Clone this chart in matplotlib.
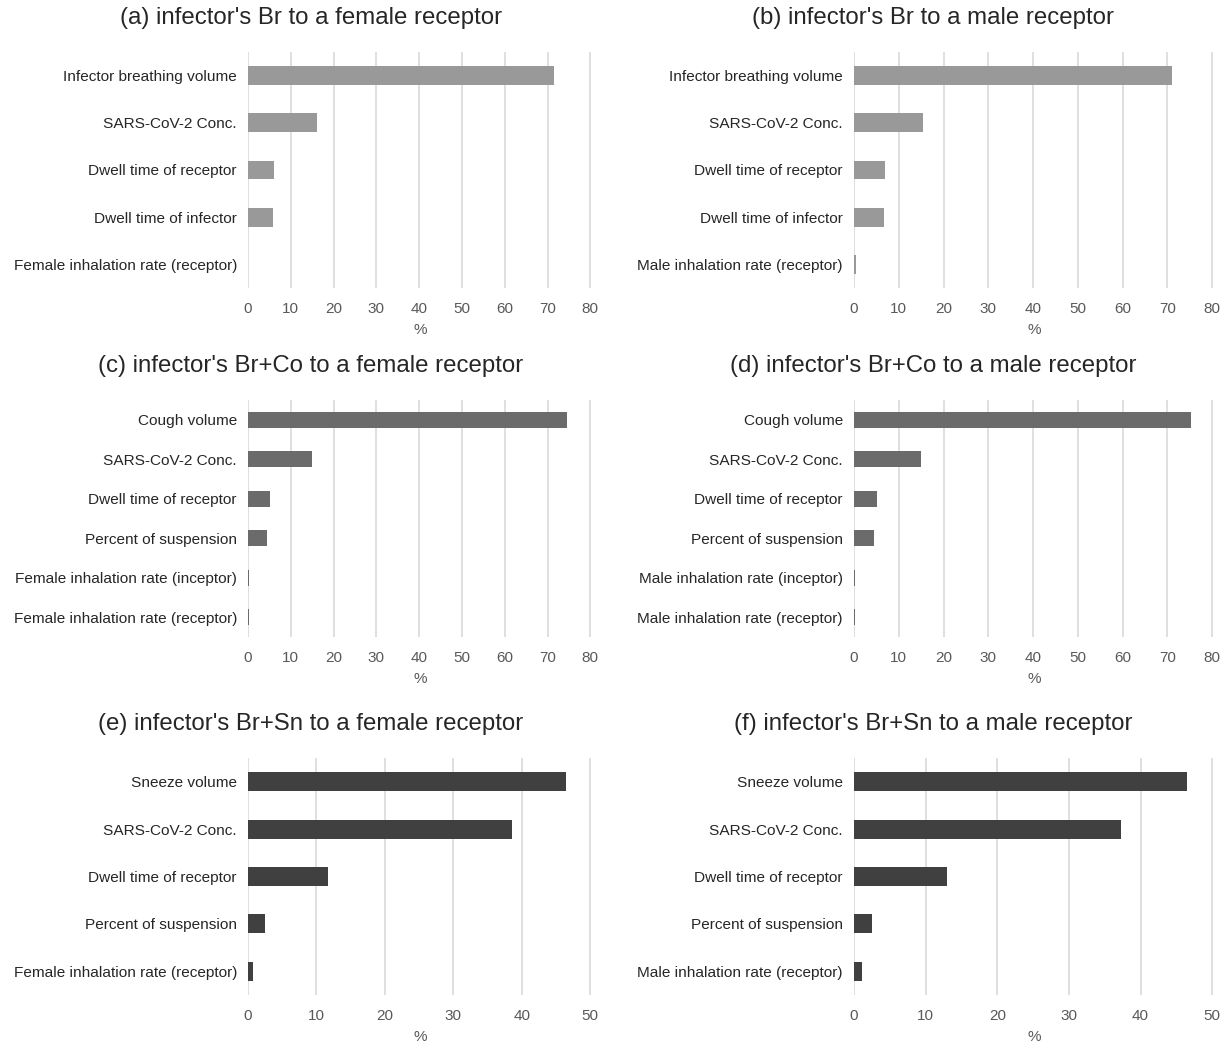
import matplotlib
matplotlib.use("Agg")
import matplotlib.pyplot as plt

plt.rcParams['font.family'] = ['Liberation Sans', 'DejaVu Sans']

# ---- data ----
cats_a = ["Infector breathing volume", "SARS-CoV-2 Conc.", "Dwell time of receptor",
          "Dwell time of infector", "Female inhalation rate (receptor)"]
vals_a = [71.6, 16.1, 6.1, 5.8, 0.0]

cats_b = ["Infector breathing volume", "SARS-CoV-2 Conc.", "Dwell time of receptor",
          "Dwell time of infector", "Male inhalation rate (receptor)"]
vals_b = [71.0, 15.4, 6.9, 6.7, 0.4]

cats_c = ["Cough volume", "SARS-CoV-2 Conc.", "Dwell time of receptor",
          "Percent of suspension", "Female inhalation rate (inceptor)",
          "Female inhalation rate (receptor)"]
vals_c = [74.6, 15.0, 5.1, 4.4, 0.3, 0.2]

cats_d = ["Cough volume", "SARS-CoV-2 Conc.", "Dwell time of receptor",
          "Percent of suspension", "Male inhalation rate (inceptor)",
          "Male inhalation rate (receptor)"]
vals_d = [75.3, 14.9, 5.1, 4.5, 0.3, 0.3]

cats_e = ["Sneeze volume", "SARS-CoV-2 Conc.", "Dwell time of receptor",
          "Percent of suspension", "Female inhalation rate (receptor)"]
vals_e = [46.5, 38.6, 11.7, 2.5, 0.7]

cats_f = ["Sneeze volume", "SARS-CoV-2 Conc.", "Dwell time of receptor",
          "Percent of suspension", "Male inhalation rate (receptor)"]
vals_f = [46.5, 37.3, 13.0, 2.5, 1.1]

titles = ["(a) infector's Br to a female receptor",
          "(b) infector's Br to a male receptor",
          "(c) infector's Br+Co to a female receptor",
          "(d) infector's Br+Co to a male receptor",
          "(e) infector's Br+Sn to a female receptor",
          "(f) infector's Br+Sn to a male receptor"]

W, H = 1231, 1045
fig = plt.figure(figsize=(W / 100, H / 100), dpi=100)

panels = [
    (cats_a, vals_a, "#999999", 80, 10, (248, 592, 52, 288), 18, 311),
    (cats_b, vals_b, "#999999", 80, 10, (854, 1214, 52, 288), 18, 933),
    (cats_c, vals_c, "#6b6b6b", 80, 10, (248, 592, 400, 637), 366, 311),
    (cats_d, vals_d, "#6b6b6b", 80, 10, (854, 1214, 400, 637), 366, 933),
    (cats_e, vals_e, "#404040", 50, 10, (248, 592, 758, 995), 724, 311),
    (cats_f, vals_f, "#404040", 50, 10, (854, 1214, 758, 995), 724, 933),
]

for i, (cats, vals, col, xmax, step, (x0, x1, y0, y1), ty, tx) in enumerate(panels):
    ax = fig.add_axes([x0 / W, 1 - y1 / H, (x1 - x0) / W, (y1 - y0) / H])
    n = len(cats)
    ypos = list(range(n))
    ax.barh(ypos, vals, height=0.4, color=col, zorder=3)
    ax.set_ylim(n - 0.5, -0.5)
    ax.set_xlim(0, xmax * 1.005)
    ax.set_xticks(list(range(0, xmax + 1, step)))
    ax.set_yticks(ypos)
    ax.set_yticklabels(cats, fontsize=11.1, color="#262626")
    ax.tick_params(axis='x', labelsize=11, labelcolor="#595959", length=0, pad=10)
    ax.tick_params(axis='y', length=0, pad=8)
    ax.grid(axis='x', color="#d9d9d9", linewidth=1.2, zorder=0)
    ax.grid(axis='y', visible=False)
    for s in ax.spines.values():
        s.set_visible(False)
    ax.set_xlabel("%", fontsize=11, color="#595959", labelpad=5)
    fig.text(tx / W, 1 - ty / H, titles[i], fontsize=17.3, ha='center', va='center',
             color="#262626")

fig.savefig("out.png", dpi=100, facecolor="white")
